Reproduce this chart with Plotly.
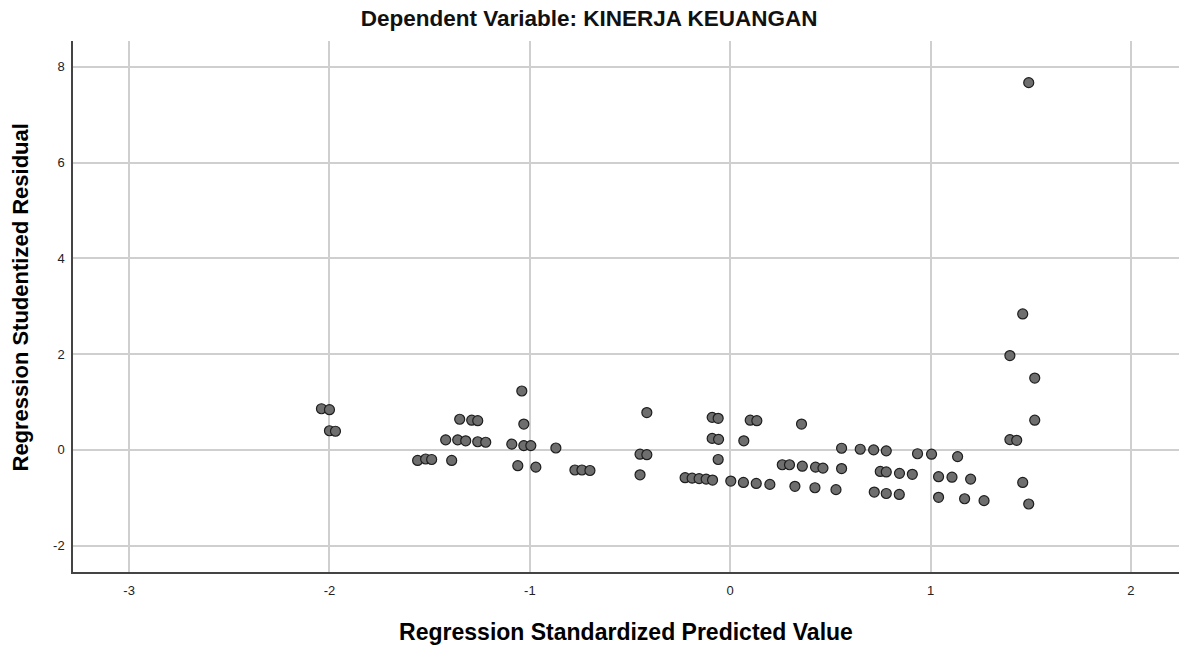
import plotly.graph_objects as go

pred = [-2.04, -2.00, -2.00, -1.97, -1.56, -1.52, -1.49, -1.39, -1.42, -1.36, -1.32,
        -1.35, -1.29, -1.26, -1.26, -1.22, -1.04, -1.03, -1.09, -1.03, -0.995, -0.87,
        -1.06, -0.97, -0.775, -0.74, -0.70,
        -0.416, -0.45, -0.416, -0.45, -0.225, -0.19, -0.155, -0.12, -0.088,
        -0.09, -0.06, -0.09, -0.058, -0.06, 0.003, 0.066, 0.13, 0.198,
        0.10, 0.133, 0.068, 0.356, 0.26, 0.296, 0.36, 0.426, 0.463,
        0.323, 0.423, 0.528, 0.556, 0.556, 0.649, 0.716, 0.779,
        0.749, 0.779, 0.845, 0.909, 0.719, 0.779, 0.844, 0.935,
        1.46, 1.396, 1.52, 1.52, 1.396, 1.43, 1.005, 1.135,
        1.04, 1.107, 1.20, 1.04, 1.17, 1.267, 1.46, 1.49, 1.49]
resid = [0.86, 0.84, 0.40, 0.39, -0.22, -0.19, -0.20, -0.22, 0.21, 0.21, 0.19,
         0.64, 0.62, 0.61, 0.17, 0.16, 1.23, 0.54, 0.12, 0.09, 0.09, 0.04,
         -0.33, -0.36, -0.42, -0.42, -0.43,
         0.78, -0.09, -0.10, -0.52, -0.58, -0.59, -0.60, -0.61, -0.63,
         0.68, 0.66, 0.24, 0.22, -0.20, -0.65, -0.68, -0.70, -0.72,
         0.62, 0.61, 0.19, 0.54, -0.31, -0.31, -0.34, -0.36, -0.38,
         -0.76, -0.79, -0.83, 0.035, -0.39, 0.014, 0.0, -0.02,
         -0.45, -0.46, -0.49, -0.51, -0.88, -0.91, -0.93, -0.08,
         2.84, 1.97, 1.50, 0.62, 0.215, 0.20, -0.09, -0.14,
         -0.56, -0.57, -0.61, -0.99, -1.02, -1.06, -0.68, -1.13, 7.67]

x_ticks = [-3, -2, -1, 0, 1, 2]
y_ticks = [-2, 0, 2, 4, 6, 8]

fig = go.Figure()
fig.add_trace(go.Scatter(
    x=pred, y=resid, mode="markers",
    marker=dict(size=10, color="#6e6e6e", line=dict(color="#1e1e1e", width=1.2)),
    showlegend=False, hoverinfo="x+y"))

fig.update_layout(
    width=1179, height=646,
    margin=dict(l=73, r=0, t=41, b=74),
    paper_bgcolor="white", plot_bgcolor="white",
    font=dict(family="Liberation Sans, Arial, sans-serif", color="#222"),
    title=dict(text="<b>Dependent Variable: KINERJA KEUANGAN</b>",
               font=dict(size=22.5, color="#111"),
               x=0.4996, xanchor="center", y=0.972, yanchor="middle",
               xref="container", yref="container"),
)
fig.add_annotation(
    text="<b>Regression Studentized Residual</b>", textangle=-90,
    xref="paper", yref="paper", x=(20 - 73) / 1106, y=(572 - 297.5) / 531,
    xanchor="center", yanchor="middle", showarrow=False,
    font=dict(size=22, color="#000"))
fig.update_xaxes(
    range=[-3.28, 2.24], tickvals=x_ticks, ticktext=[str(v) for v in x_ticks],
    showgrid=True, gridcolor="#cfcfcf", gridwidth=1.5, zeroline=False,
    showline=True, linecolor="#444", linewidth=1.5,
    ticks="outside", ticklen=6, tickcolor="rgba(0,0,0,0)",
    tickfont=dict(size=13, color="#222"),
    title=dict(text="<b>Regression Standardized Predicted Value</b>",
               font=dict(size=23, color="#000"), standoff=27))
fig.update_yaxes(
    range=[-2.55, 8.54], tickvals=y_ticks, ticktext=[str(v) for v in y_ticks],
    showgrid=True, gridcolor="#cfcfcf", gridwidth=1.5, zeroline=False,
    showline=True, linecolor="#444", linewidth=1.5,
    ticks="outside", ticklen=4, tickcolor="rgba(0,0,0,0)",
    tickfont=dict(size=13, color="#222"))

fig.write_html("out.html")
